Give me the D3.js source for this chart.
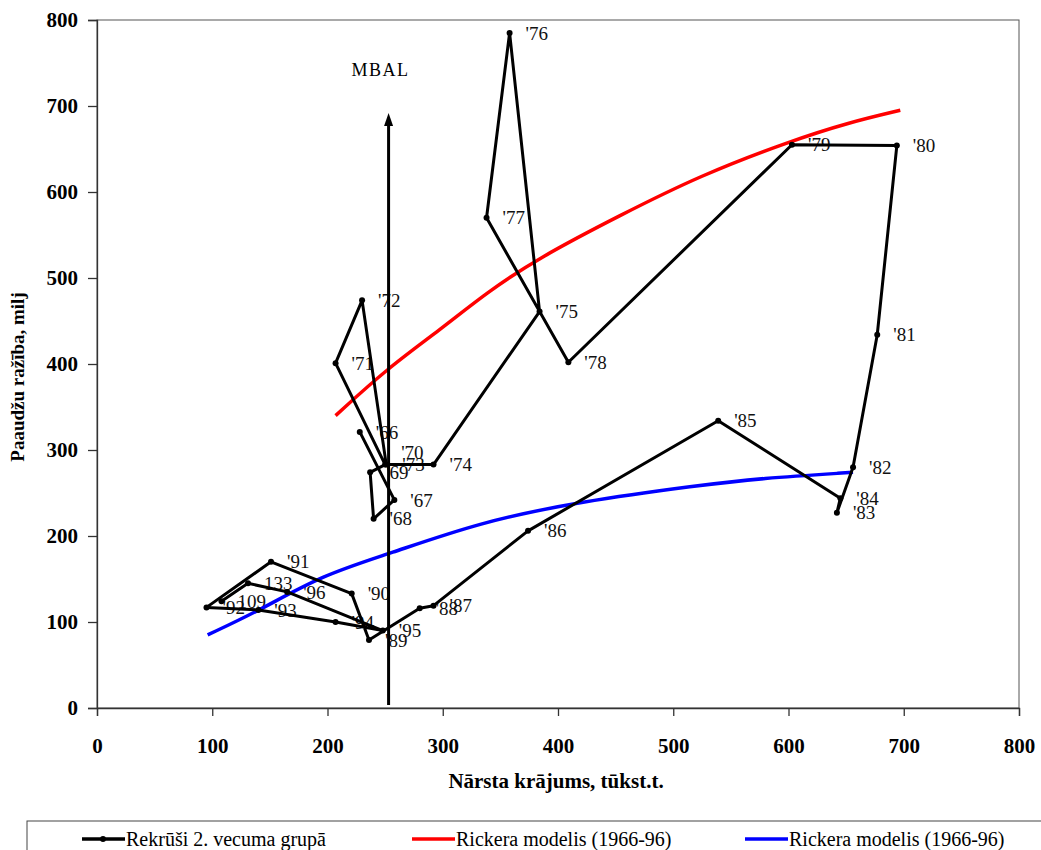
<!DOCTYPE html>
<html>
<head>
<meta charset="utf-8">
<script src="https://cdn.jsdelivr.net/npm/d3@7"></script>
<style>
  html, body { margin: 0; padding: 0; background: #fff; }
  svg { display: block; }
</style>
</head>
<body>
<svg id="chart" width="1041" height="850"></svg>
<script>
// ---------- DATA ----------
const yearLabels = ["'66","'67","'68","'69","'70","'71","'72","'73","'74","'75","'76","'77","'78","'79","'80","'81","'82","'83","'84","'85","'86","'87","'88","'89","'90","'91","'92","'93","'94","'95","'96","133","109"];
const stockValues = [228,258,240,237,250,207,230,251,292,384,358,338,409,603,694,677,656,642,645,539,374,292,280,236,221,151,95,140,207,248,165,131,108];
const recruitValues = [321,242,220,274,283,401,474,283,283,461,785,570,402,655,654,434,280,227,244,334,206,119,116,79,133,170,117,114,100,90,135,145,124];

const redStock   = [207,252,298,338,384,454,523,601,653,697];
const redRecruit = [340,395,440,483,524,573,619,659,681,695];

const blueStock   = [96,139,196,253,332,419,523,575,656];
const blueRecruit = [85,112,155,179,216,240,259,267,274];

const mbalStock = 253;
const mbalTop = 692;

const xTicks = [0,100,200,300,400,500,600,700,800];
const yTicks = [0,100,200,300,400,500,600,700,800];

const legendLabels = ["Rekrūši 2. vecuma grupā","Rickera modelis (1966-96)","Rickera modelis (1966-96)"];
const xTitle = "Nārsta krājums, tūkst.t.";
const yTitle = "Paaudžu ražība, milj";

// ---------- CHART ----------
const svg = d3.select("#chart");
const serif = "'Liberation Serif','Times New Roman',serif";
const x = d3.scaleLinear().domain([0,800]).range([97,1019]);
const y = d3.scaleLinear().domain([0,800]).range([708,20]);

// plot border (top/right)
svg.append("rect").attr("x",97).attr("y",20).attr("width",1019-97).attr("height",708-20)
  .attr("fill","none").attr("stroke","#555").attr("stroke-width",1);

// axes
const xAxis = svg.append("g").attr("transform","translate(0,708)")
  .call(d3.axisBottom(x).tickValues(xTicks).tickSize(8).tickPadding(22).tickFormat(d3.format("d")));
const yAxis = svg.append("g").attr("transform","translate(97,0)")
  .call(d3.axisLeft(y).tickValues(yTicks).tickSize(9).tickPadding(10).tickFormat(d3.format("d")));
[xAxis,yAxis].forEach(g=>{
  g.select(".domain").attr("stroke","#333").attr("stroke-width",1.3);
  g.selectAll(".tick line").attr("stroke","#333").attr("stroke-width",1.3);
  g.selectAll(".tick text").attr("font-family",serif).attr("font-weight","bold")
    .attr("font-size","21px").attr("fill","#000");
});

// axis titles
svg.append("text").attr("x",556).attr("y",788).attr("text-anchor","middle")
  .attr("font-family",serif).attr("font-weight","bold").attr("font-size","21px").text(xTitle);
svg.append("text").attr("transform","translate(24,377) rotate(-90)").attr("text-anchor","middle")
  .attr("font-family",serif).attr("font-weight","bold").attr("font-size","19px").text(yTitle);

// data labels (drawn first, lines over them)
const nudge = {"'70":[0,-12]};
svg.append("g").selectAll("text").data(yearLabels).join("text")
  .attr("x",(d,i)=>x(stockValues[i])+16+((nudge[d]||[0,0])[0]))
  .attr("y",(d,i)=>y(recruitValues[i])+((nudge[d]||[0,0])[1]))
  .attr("dy","0.35em")
  .attr("font-family",serif).attr("font-size","19px").attr("fill","#111")
  .text(d=>d);

// red and blue model curves
const lineGen = d3.line().curve(d3.curveBasis);
svg.append("path").attr("d",lineGen(redStock.map((s,i)=>[x(s),y(redRecruit[i])])))
  .attr("fill","none").attr("stroke","#ff0000").attr("stroke-width",3.5);
svg.append("path").attr("d",lineGen(blueStock.map((s,i)=>[x(s),y(blueRecruit[i])])))
  .attr("fill","none").attr("stroke","#0000ff").attr("stroke-width",3.5);

// black recruit series
const pts = stockValues.map((s,i)=>[x(s),y(recruitValues[i])]);
svg.append("path").attr("d",d3.line()(pts))
  .attr("fill","none").attr("stroke","#000").attr("stroke-width",3).attr("stroke-linejoin","round");
svg.append("g").selectAll("circle").data(pts).join("circle")
  .attr("cx",d=>d[0]).attr("cy",d=>d[1]).attr("r",3).attr("fill","#000");

// MBAL arrow
svg.append("line").attr("x1",x(mbalStock)).attr("x2",x(mbalStock))
  .attr("y1",y(0)-3).attr("y2",y(mbalTop)+10)
  .attr("stroke","#000").attr("stroke-width",3);
svg.append("path")
  .attr("d",`M${x(mbalStock)},${y(mbalTop)} L${x(mbalStock)-4.5},${y(mbalTop)+13} L${x(mbalStock)+4.5},${y(mbalTop)+13} Z`)
  .attr("fill","#000");
svg.append("text").attr("x",x(mbalStock)-8).attr("y",70).attr("dy","0.35em").attr("text-anchor","middle")
  .attr("font-family",serif).attr("font-size","18px").attr("letter-spacing","1.5px").text("MBAL");

// legend
svg.append("rect").attr("x",27).attr("y",821).attr("width",1040).attr("height",40)
  .attr("fill","#fff").attr("stroke","#444").attr("stroke-width",1);
const legColors = ["#000","#ff0000","#0000ff"];
const legX = [82,412,745];
legendLabels.forEach((t,i)=>{
  const g = svg.append("g");
  g.append("line").attr("x1",legX[i]).attr("x2",legX[i]+43).attr("y1",839).attr("y2",839)
    .attr("stroke",legColors[i]).attr("stroke-width",3.5);
  if(i===0) g.append("circle").attr("cx",legX[i]+21).attr("cy",839).attr("r",3).attr("fill","#000");
  g.append("text").attr("x",legX[i]+44).attr("y",839).attr("dy","0.35em")
    .attr("font-family",serif).attr("font-size","20px").attr("fill","#000").text(t);
});
</script>
</body>
</html>
